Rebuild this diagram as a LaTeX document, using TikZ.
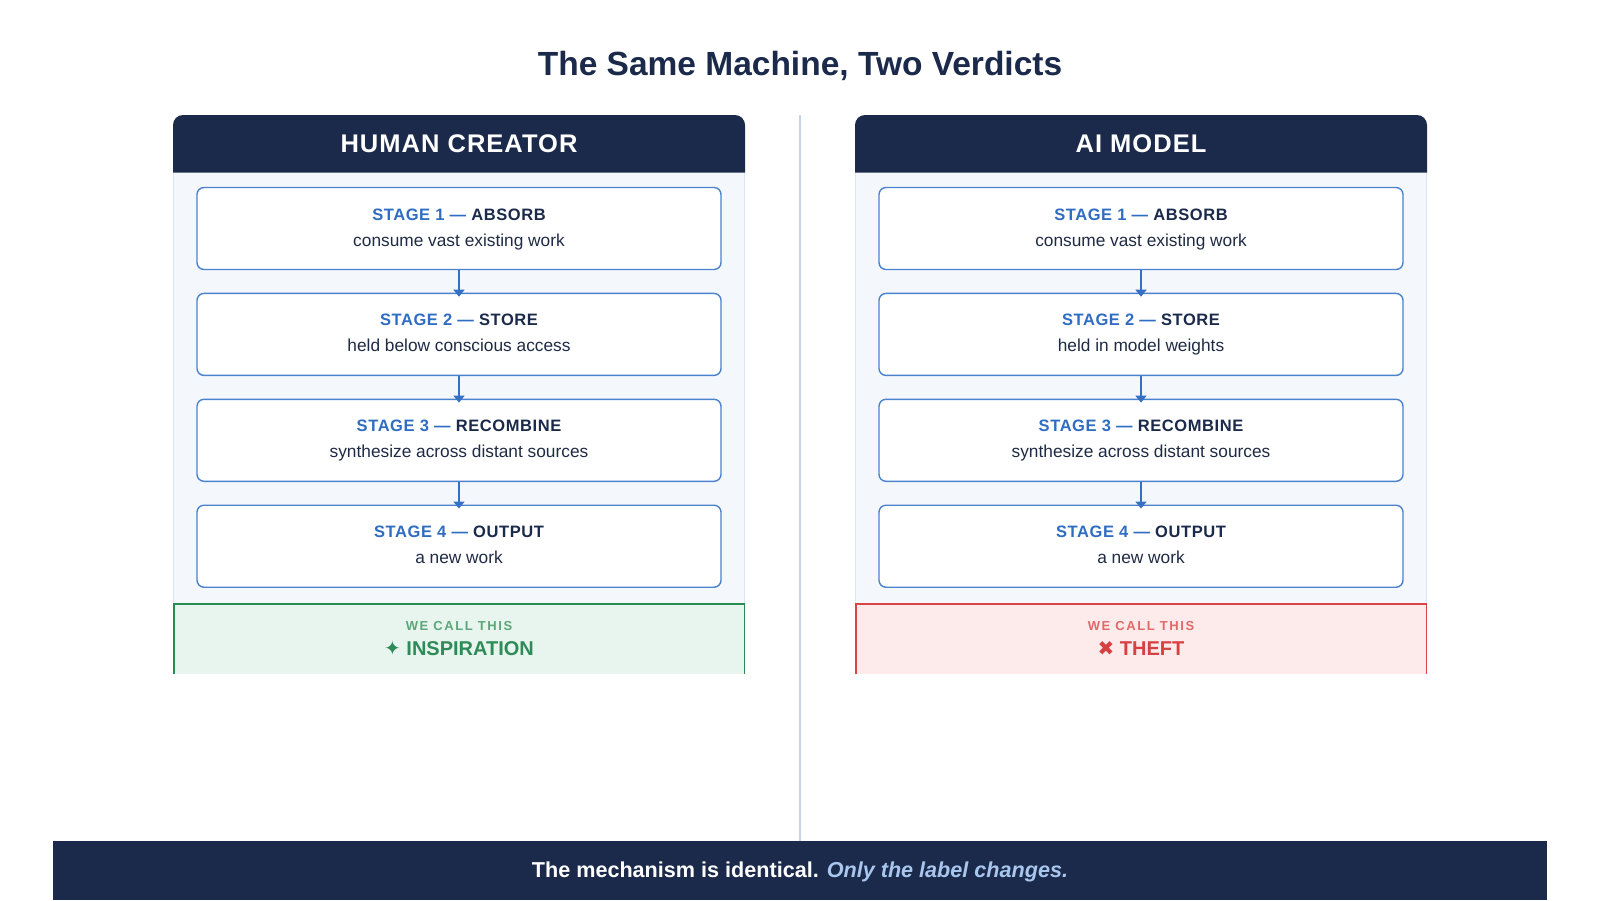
\documentclass[tikz,border=0pt]{standalone}
\usepackage{fontspec}
\setmainfont{Liberation Sans}
\newfontfamily\headfont[LetterSpace=4]{Liberation Sans}
\newfontfamily\stagefont[LetterSpace=3.5]{Liberation Sans}
\newfontfamily\callfont[LetterSpace=12]{Liberation Sans}
\newfontfamily\symfont{DejaVu Sans}
\usetikzlibrary{arrows.meta,positioning}
\definecolor{navy}{HTML}{1B2A4A}
\definecolor{stageblue}{HTML}{2F6DC2}
\definecolor{boxblue}{HTML}{4A82CE}
\definecolor{flowblue}{HTML}{3570C4}
\definecolor{subtext}{HTML}{1F2B44}
\definecolor{panelbg}{HTML}{F4F7FC}
\definecolor{panelline}{HTML}{DCE5F1}
\definecolor{divider}{HTML}{C8D5E8}
\definecolor{greenline}{HTML}{2A8A4F}
\definecolor{greenfill}{HTML}{E8F5EE}
\definecolor{greentext}{HTML}{2E8B57}
\definecolor{greenlight}{HTML}{5BA67A}
\definecolor{redline}{HTML}{D94545}
\definecolor{redfill}{HTML}{FDEAEA}
\definecolor{redtext}{HTML}{D64040}
\definecolor{redlight}{HTML}{E06A6A}
\definecolor{footblue}{HTML}{A8C6EE}
\newcommand\stagetitle[2]{\rule{0pt}{17pt}{\stagefont\bfseries\fontsize{16.5}{26}\selectfont\textcolor{stageblue}{STAGE #1 —} \textcolor{navy}{#2}}}
\newcommand\stagesub[1]{#1\rule[-8pt]{0pt}{8pt}}

\begin{document}
\begin{tikzpicture}[x=1pt,y=-1pt,
    stagebox/.style={draw=boxblue, line width=1.4pt, fill=white, rounded corners=7pt,
      minimum width=524pt, minimum height=82pt, inner sep=0pt, align=center,
      font=\fontsize{17.3}{26}\selectfont, text=subtext},
    flow/.style={draw=flowblue, line width=1.6pt, shorten >=-4pt, -{Triangle[width=11pt,length=7pt]}},
    header/.style={text=white, font=\headfont\bfseries\fontsize{25.5}{30}\selectfont, anchor=base},
    calltag/.style={font=\callfont\bfseries\fontsize{13}{15}\selectfont, anchor=base},
    verdict/.style={font=\bfseries\fontsize{20}{24}\selectfont, anchor=base}]
        \useasboundingbox (0,0) rectangle (1600,900);
        \path[fill=white] (0,0) rectangle (1600,900);
        % title
        \node[font=\bfseries\fontsize{33.5}{38}\selectfont, text=navy, anchor=base] (title) at (800,75.5) {The Same Machine, Two Verdicts};
        % divider
        \path[draw=divider, line width=1.5pt] (800,115) -- (800,841);
        % panels
        \foreach \cx in {459,1141}
        {
            \path[fill=panelbg] (\cx-286,172.5) rectangle (\cx+286,673.5);
            \path[draw=panelline, line width=1pt] (\cx-285.5,172.5) -- (\cx-285.5,673.5) (\cx+285.5,172.5) -- (\cx+285.5,673.5);
            \path[fill=navy] (\cx-286,172.5) [rounded corners=10pt] -- (\cx-286,115) -- (\cx+286,115) [sharp corners] -- (\cx+286,172.5) -- cycle;
        }
        \node[header] (hhead) at (459,152.3) {HUMAN CREATOR};
        \node[header] (ahead) at (1141,152.3) {AI MODEL};
        % stages
        \foreach \col/\cx/\store in {h/459/{held below conscious access}, a/1141/{held in model weights}}
        {
            \node[stagebox] (\col1) at (\cx,228.5) {\stagetitle{1}{ABSORB}\\\stagesub{consume vast existing work}};
            \node[stagebox, below=22.5pt of \col1] (\col2) {\stagetitle{2}{STORE}\\\stagesub{\store}};
            \node[stagebox, below=22.5pt of \col2] (\col3) {\stagetitle{3}{RECOMBINE}\\\stagesub{synthesize across distant sources}};
            \node[stagebox, below=22.5pt of \col3] (\col4) {\stagetitle{4}{OUTPUT}\\\stagesub{a new work}};
            \foreach \i [evaluate=\i as \j using int(\i+1)] in {1,2,3}
            {
                \path[flow] (\col\i.south) -- (\col\j.north);
            }
        }
        % verdicts
        \path[fill=greenfill] (173,603) rectangle (745,673.5);
        \path[draw=greenline, line width=1.5pt] (173.75,673.5) -- (173.75,603.75) -- (744.25,603.75) -- (744.25,673.5);
        \node[calltag, text=greenlight] (hcall) at (459,630.7) {WE CALL THIS};
        \node[verdict, text=greentext] (hverdict) at (459,655) {{\symfont\mdseries ✦} INSPIRATION};
        \path[fill=redfill] (855,603) rectangle (1427,673.5);
        \path[draw=redline, line width=1.5pt] (855.75,673.5) -- (855.75,603.75) -- (1426.25,603.75) -- (1426.25,673.5);
        \node[calltag, text=redlight] (acall) at (1141,630.7) {WE CALL THIS};
        \node[verdict, text=redtext] (averdict) at (1141,655) {{\symfont\mdseries ✖} THEFT};
        % footer
        \path[fill=navy] (53,841) rectangle (1547,900);
        \node[anchor=base, font=\bfseries\fontsize{21.6}{25}\selectfont, text=white] (footer) at (800,877) {The mechanism is identical. \textcolor{footblue}{\itshape Only the label changes.}};
\end{tikzpicture}
\end{document}
